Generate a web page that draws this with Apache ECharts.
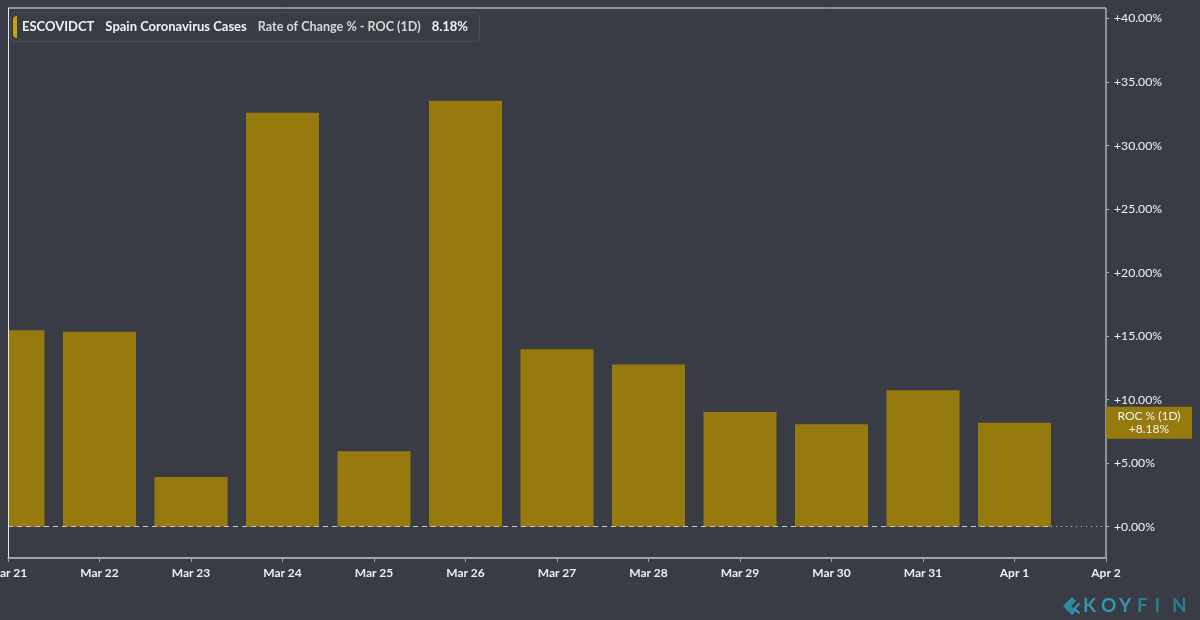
<!DOCTYPE html>
<html>
<head>
<meta charset="utf-8">
<script src="https://cdn.jsdelivr.net/npm/echarts@6/dist/echarts.min.js"></script>
<style>
  html, body { margin: 0; padding: 0; background: #393c45; }
  #chart { width: 1200px; height: 620px; }
</style>
</head>
<body>
<div id="chart"></div>
<script>
// 数据
var days = ['Mar 21', 'Mar 22', 'Mar 23', 'Mar 24', 'Mar 25', 'Mar 26', 'Mar 27',
            'Mar 28', 'Mar 29', 'Mar 30', 'Mar 31', 'Apr 1', 'Apr 2'];
var roc = [15.47, 15.34, 3.92, 32.58, 5.94, 33.53, 13.98, 12.77, 9.04, 8.07, 10.75, 8.18];
var yTicks = [0, 5, 10, 15, 20, 25, 30, 35, 40];
var lastValue = 8.18;

(function() {
    var myChart = echarts.init(document.getElementById('chart'));
    var bg = '#393c45';
    var gold = '#977a0e';
    var barData = roc.map(function(v, i) { return [i, v]; });

    var option = {
        backgroundColor: bg,
        animation: false,
        textStyle: { fontFamily: 'Lato' },
        title: {
            left: 10,
            top: 12,
            padding: [4, 12, 4, 3],
            borderColor: '#4a4e58',
            borderWidth: 1,
            borderRadius: 5,
            text: '{m|}{e|ESCOVIDCT}{a|Spain Coronavirus Cases}{c|Rate of Change % - ROC (1D)}{a|' + lastValue.toFixed(2) + '%}',
            textStyle: {
                rich: {
                    m: { backgroundColor: '#c9a210', width: 4, height: 22, borderRadius: [4, 0, 0, 4] },
                    e: { color: '#f2f2f2', fontSize: 13, fontWeight: 'bold', fontFamily: 'Lato', padding: [0, 0, 0, 5] },
                    a: { color: '#f2f2f2', fontSize: 13, fontWeight: 'bold', fontFamily: 'Lato', padding: [0, 0, 0, 11] },
                    c: { color: '#d8d8d8', fontSize: 12.6, fontFamily: 'Lato', padding: [0, 0, 0, 11] }
                }
            }
        },
        grid: {
            left: 8,
            right: 94,
            top: 8,
            bottom: 62,
            outerBoundsMode: 'none',
            containLabel: false,
            show: true,
            borderColor: '#e8e8e8',
            borderWidth: 1
        },
        xAxis: {
            type: 'value',
            min: 0,
            max: days.length - 1,
            interval: 1,
            splitLine: { show: false },
            axisLine: { show: true, onZero: false, lineStyle: { color: '#9ea2a9', width: 2 } },
            axisTick: { show: true, length: 4, lineStyle: { color: '#9ea2a9' } },
            axisLabel: {
                color: '#eeeeee',
                fontWeight: 'bold',
                fontSize: 12,
                margin: 9,
                showMinLabel: true,
                showMaxLabel: true,
                hideOverlap: false,
                formatter: function(v) { return days[v] || ''; }
            }
        },
        yAxis: {
            type: 'value',
            position: 'right',
            min: -2.46,
            max: 40.83,
            splitLine: { show: false },
            axisLine: { show: false, onZero: false },
            axisTick: { show: true, length: 3, customValues: yTicks, lineStyle: { color: '#aaaaaa' } },
            axisLabel: {
                color: '#f4f4f4',
                fontSize: 12.2,
                margin: 8,
                customValues: yTicks,
                formatter: function(v) { return '+' + v.toFixed(2) + '%'; }
            }
        },
        series: [
            {
                type: 'bar',
                data: barData,
                barWidth: 73,
                clip: true,
                itemStyle: { color: gold },
                markLine: {
                    symbol: 'none',
                    silent: true,
                    label: { show: false },
                    data: [
                        [
                            { coord: [0, 0], lineStyle: { type: [5, 4], color: '#c8c8c8', width: 1 } },
                            { coord: [11.4, 0] }
                        ],
                        [
                            { coord: [11.4, 0], lineStyle: { type: [1, 4], color: '#c8c8c8', width: 1 } },
                            { coord: [12, 0] }
                        ],
                        {
                            yAxis: lastValue,
                            lineStyle: { color: 'rgba(0,0,0,0)', width: 1 },
                            label: {
                                show: true,
                                position: 'end',
                                distance: 0,
                                backgroundColor: gold,
                                padding: [3, 4, 3, 4],
                                formatter: '{t|ROC % (1D)}\n{t|+' + lastValue.toFixed(2) + '%}',
                                rich: {
                                    t: { color: '#f4f4f4', fontSize: 12, fontFamily: 'Lato', width: 78, align: 'center', lineHeight: 13 }
                                }
                            }
                        }
                    ]
                }
            }
        ],
        graphic: [
            // 遮住左边超出网格的柱子
            {
                type: 'rect',
                z: 10,
                shape: { x: 0, y: 8, width: 8, height: 550 },
                style: { fill: bg }
            },
            {
                type: 'line',
                z: 11,
                shape: { x1: 8.5, y1: 8, x2: 8.5, y2: 558 },
                style: { stroke: '#e8e8e8', lineWidth: 1 }
            },
            {
                type: 'polyline',
                left: 1063,
                top: 597,
                shape: { points: [[9, 0], [0, 9], [9, 18], [13, 14], [8, 9], [13, 4], [9, 0]] },
                style: { fill: '#2b8ea3', stroke: null }
            },
            {
                type: 'polyline',
                left: 1072,
                top: 601,
                shape: { points: [[5, 0], [0, 5], [5, 10]] },
                style: { fill: null, stroke: '#3a9ab2', lineWidth: 2 }
            },
            {
                type: 'text',
                left: 1083,
                top: 596,
                style: {
                    text: '{d|K}{d|O}{d|Y}{l|F}{l|I}{l|N}',
                    rich: {
                        d: { fill: '#3596b0', fontSize: 19, fontWeight: 'bold', fontFamily: 'Lato', width: 18 },
                        l: { fill: '#25808f', fontSize: 19, fontWeight: 'bold', fontFamily: 'Lato', width: 17.5 }
                    }
                }
            }
        ]
    };
    myChart.setOption(option);
})();
</script>
</body>
</html>
